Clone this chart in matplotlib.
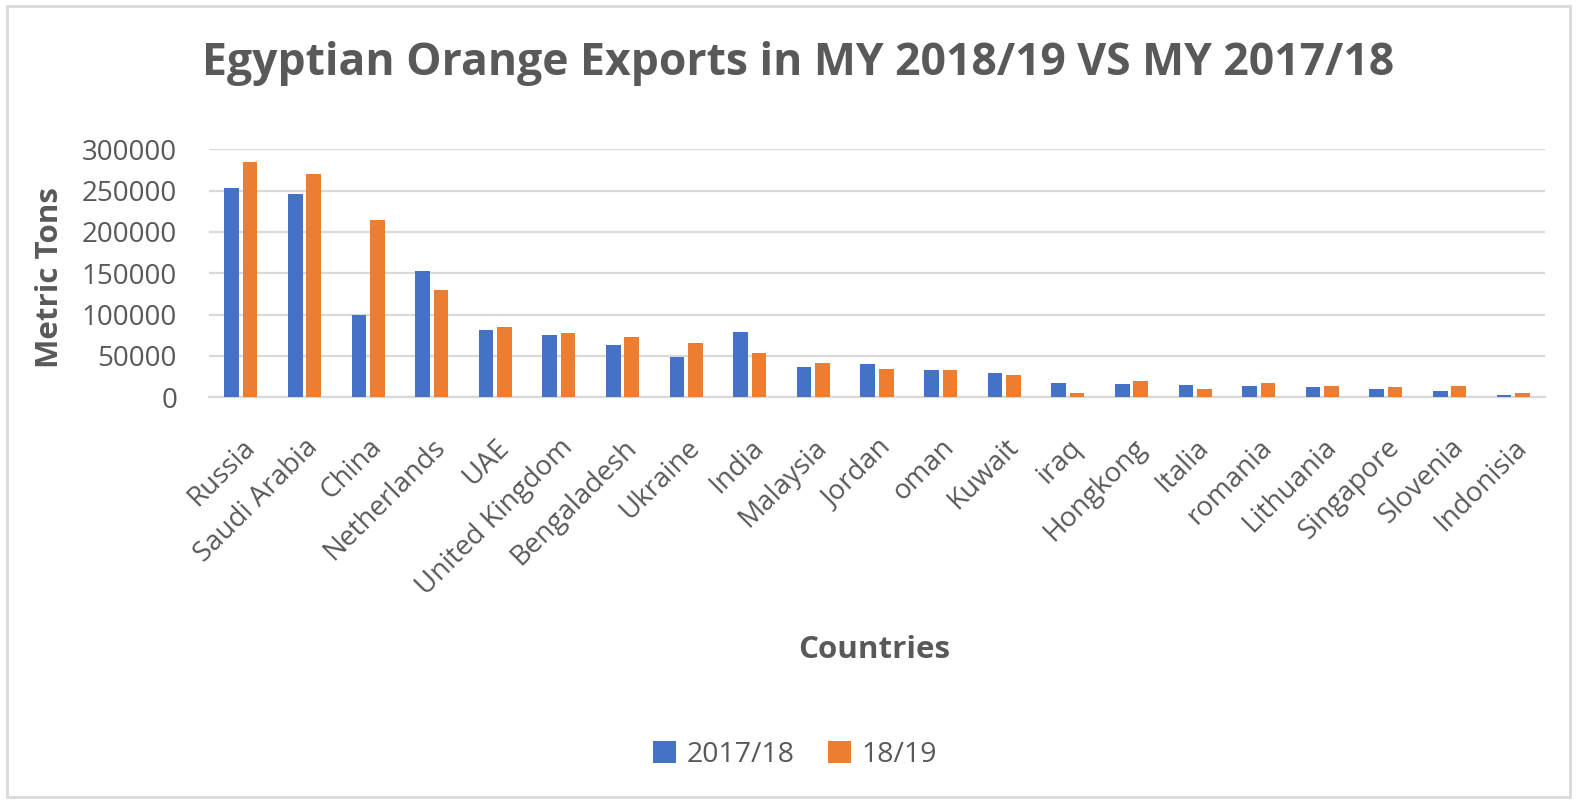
import matplotlib
matplotlib.use("Agg")
import matplotlib.pyplot as plt
import numpy as np
from matplotlib.patches import Rectangle

countries = ["Russia", "Saudi Arabia", "China", "Netherlands", "UAE", "United Kingdom",
             "Bengaladesh", "Ukraine", "India", "Malaysia", "Jordan", "oman", "Kuwait",
             "iraq", "Hongkong", "Italia", "romania", "Lithuania", "Singapore", "Slovenia",
             "Indonisia"]
my_2017_18 = [253500, 246000, 100000, 153000, 82000, 75000, 63000, 49000, 79500, 37000,
              40000, 33000, 30000, 17700, 16000, 15000, 13700, 12000, 10500, 8000, 2800]
my_2018_19 = [285000, 270000, 215000, 130000, 84500, 78000, 73000, 66000, 54000, 41000,
              34500, 33000, 27000, 5500, 20000, 9500, 17700, 13700, 12900, 13700, 4800]
series_names = ["2017/18", "18/19"]
yticks = [0, 50000, 100000, 150000, 200000, 250000, 300000]

plt.rcParams['font.family'] = ['Open Sans', 'DejaVu Sans']
TXT = '#595959'
BLUE = '#4472C4'
ORANGE = '#ED7D31'

fig = plt.figure(figsize=(15.81, 8.02), dpi=100)
fig.patch.set_facecolor('white')
fig.patches.append(Rectangle((7/1581, 5/802), 1563/1581, 791/802, transform=fig.transFigure,
                             fill=False, edgecolor='#D9D9D9', linewidth=2))

ax = fig.add_axes([209/1581, 404.7/802, 1336/1581, 248/802])
x = np.arange(len(countries))
w = 0.23
ax.bar(x - 0.145, my_2017_18, w, color=BLUE, label=series_names[0], zorder=3)
ax.bar(x + 0.145, my_2018_19, w, color=ORANGE, label=series_names[1], zorder=3)

ax.set_xlim(-0.5, len(countries) - 0.5)
ax.set_ylim(0, 300000)
ax.set_yticks(yticks)
ax.set_yticklabels([str(v) for v in yticks])
ax.yaxis.grid(True, color='#D9D9D9', linewidth=1.6, zorder=0)
ax.set_axisbelow(True)
for s in ['top', 'right', 'left']:
    ax.spines[s].set_visible(False)
ax.spines['bottom'].set_color('#D9D9D9')
ax.spines['bottom'].set_linewidth(1.6)
ax.tick_params(axis='y', length=0, pad=23, labelsize=20, labelcolor=TXT)
ax.tick_params(axis='x', length=0, pad=26, labelsize=20, labelcolor=TXT)
ax.set_xticks(x)
ax.set_xticklabels(countries, rotation=45, ha='right', va='top', rotation_mode='anchor')

fig.text(798/1581, 1 - 63/802, "Egyptian Orange Exports in MY 2018/19 VS MY 2017/18",
         ha='center', va='center', fontsize=32, fontweight='bold', color=TXT)
fig.text(50/1581, 1 - 277/802, "Metric Tons", rotation=90, ha='center', va='center',
         fontsize=22.5, fontweight='bold', color=TXT)
fig.text(874/1581, 1 - 650/802, "Countries", ha='center', va='center',
         fontsize=22.5, fontweight='bold', color=TXT)

leg = fig.legend(loc='center', bbox_to_anchor=(795/1581, 1 - 755/802), ncol=2, frameon=False,
                 fontsize=20.5, handlelength=0.8, handleheight=0.8, handletextpad=0.35,
                 columnspacing=1.2)
for t in leg.get_texts():
    t.set_color(TXT)

fig.savefig("out.png", dpi=100, facecolor='white')
